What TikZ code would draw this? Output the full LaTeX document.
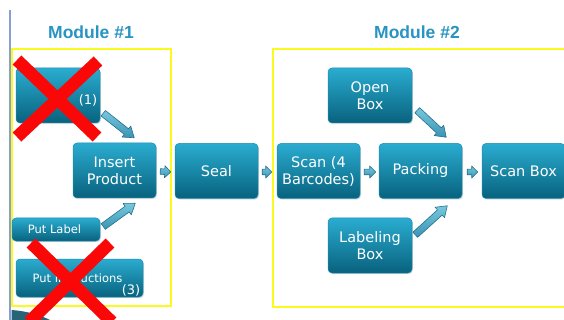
\documentclass[tikz,border=0pt]{standalone}
\usepackage{fontspec}
\usetikzlibrary{calc,shadows}
\newfontfamily\boxfamily{DejaVu Sans}
\newfontfamily\headfamily{Liberation Sans}

\definecolor{boxtop}{RGB}{42,172,208}
\definecolor{boxbot}{RGB}{8,98,126}
\definecolor{boxedge}{RGB}{30,140,175}
\definecolor{arrtop}{RGB}{120,200,222}
\definecolor{arrbot}{RGB}{58,148,180}
\definecolor{arrline}{RGB}{36,112,140}
\definecolor{headblue}{RGB}{40,148,196}
\definecolor{frameyellow}{RGB}{250,250,30}
\definecolor{rulblue}{RGB}{135,160,212}
\definecolor{crossred}{RGB}{250,8,8}
\definecolor{swoosh}{RGB}{40,100,120}

\tikzset{
  box/.style={rounded corners=4pt, top color=boxtop, bottom color=boxbot,
    draw=boxedge, line width=0.5pt, text=white, align=center, inner sep=0pt,
    font=\boxfamily\fontsize{14.5}{17}\selectfont,
    minimum width=83pt, minimum height=55pt,
    drop shadow={opacity=0.25, shadow xshift=1pt, shadow yshift=-1.2pt}},
  smallbox/.style={box, font=\boxfamily\fontsize{11.5}{13}\selectfont},
  tag/.style={text=white, inner sep=0pt, font=\boxfamily\fontsize{13}{15}\selectfont},
  heading/.style={text=headblue, inner sep=0pt, font=\headfamily\bfseries\fontsize{17.5}{20}\selectfont},
  frame/.style={draw=frameyellow, line width=2.6pt},
  blockarrow/.style={draw=arrline, line width=0.6pt, line join=round,
    top color=arrtop, bottom color=arrbot},
  cross/.style={draw=crossred, line width=12.5pt},
}

% Block arrow between two points: #1 shaft half-width, #2 head half-width,
% #3 head length, #4 start point, #5 tip point
\newcommand\blockconn[5]{%
  \coordinate (bc-s) at (#4);
  \coordinate (bc-e) at (#5);
  \coordinate (bc-n) at ($(bc-e)!#3!(bc-s)$);
  \path[blockarrow]
    ($(bc-s)!#1!90:(bc-e)$) -- ($(bc-n)!#1!-90:(bc-s)$) -- ($(bc-n)!#2!-90:(bc-s)$)
    -- (bc-e) -- ($(bc-n)!#2!90:(bc-s)$) -- ($(bc-n)!#1!90:(bc-s)$)
    -- ($(bc-s)!#1!-90:(bc-e)$) -- cycle;
}

\begin{document}
\begin{tikzpicture}[x=1pt, y=-1pt]
  \useasboundingbox (0,0) rectangle (564,320);
  \clip (0,0) rectangle (564,320);
  \fill[white] (0,0) rectangle (564,320);

  % slide rule on the left and corner decoration
  \draw[rulblue, line width=2.5pt] (10,10) -- (10,320);
  \fill[swoosh] (11.5,310) .. controls (25,311) and (38,314) .. (50,320) -- (11.5,320) -- cycle;
  \draw[white, line width=1.2pt] (12,307.5) .. controls (30,309) and (50,312) .. (70,318);

  % module frames
  \draw[frame] (12,49) rectangle (171,306);
  \draw[frame] (273,49) rectangle (580,307);

  % headings
  \node[heading] (head1) at (91,32) {Module \#1};
  \node[heading] (head2) at (417,32) {Module \#2};

  % module 1 steps
  \node[box, minimum width=84pt] (one) at (58,95.5) {};
  \node[tag] (onetag) at (88,100) {(1)};
  \node[box] (insert) at (114.5,170.5) {Insert\\Product};
  \node[smallbox, minimum width=88pt, minimum height=23pt] (putlabel) at (56,229.5) {\hspace*{-3pt}Put Label};
  \node[smallbox, minimum width=127pt, minimum height=38pt] (putinstr) at (79.5,278) {\hspace*{-4pt}Put Instructions};
  \node[tag] (instrtag) at (131,290) {(3)};

  % main line
  \node[box] (seal) at (216.5,171) {Seal};
  \node[box] (scan) at (318.5,171) {Scan (4\\Barcodes)};
  \node[box] (packing) at (420.5,171) {Packing};
  \node[box] (scanbox) at (523.5,171) {Scan Box};
  \node[box, minimum width=84pt] (openbox) at (370,95.5) {Open\\Box};
  \node[box, minimum width=84pt] (labeling) at (370,245.5) {Labeling\\Box};

  % feeding arrows
  \blockconn{3.5pt}{7pt}{10pt}{$(one.south east)+(3,-10)$}{$(insert.north east)+(-22,-5)$}
  \blockconn{3.5pt}{7pt}{10pt}{$(putlabel.east)+(3,-3)$}{$(insert.south east)+(-21,5)$}
  \blockconn{3.5pt}{7pt}{10pt}{$(openbox.south east)+(5,-13)$}{$(packing.north east)+(-16,-6)$}
  \blockconn{3.5pt}{7pt}{10pt}{$(labeling.north east)+(3,17)$}{$(packing.south east)+(-15,7)$}

  % flow arrows
  \blockconn{2.8pt}{6pt}{6pt}{$(insert.east)+(4,1)$}{$(seal.west)+(-4,1)$}
  \blockconn{2.8pt}{6pt}{6pt}{$(seal.east)+(4,1)$}{$(scan.west)+(-5,1)$}
  \blockconn{2.8pt}{6pt}{6pt}{$(scan.east)+(4,1)$}{$(packing.west)+(-3,1)$}
  \blockconn{2.8pt}{6pt}{6pt}{$(packing.east)+(5,1)$}{$(scanbox.west)+(-4,1)$}

  % removed steps
  \draw[cross] (17,60) -- (97,137);
  \draw[cross] (98,61) -- (17,137);
  \draw[cross] (31,243) -- (112,322);
  \draw[cross] (110,243) -- (29,322);
\end{tikzpicture}
\end{document}
